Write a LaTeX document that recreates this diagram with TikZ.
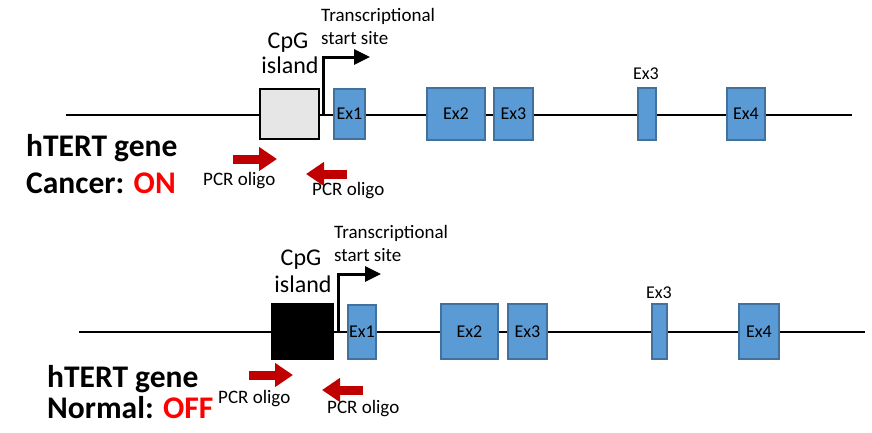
\documentclass[tikz,border=0pt]{standalone}
\usepackage{fontspec}
\setmainfont{Carlito}
\usetikzlibrary{arrows.meta}
\definecolor{exfill}{RGB}{91,155,213}
\definecolor{exdraw}{RGB}{65,113,156}
\definecolor{pcrred}{RGB}{192,0,0}
\definecolor{onred}{RGB}{255,0,0}
\definecolor{cpggray}{RGB}{230,230,230}
\tikzset{
  exon/.style={draw=exdraw, fill=exfill, line width=1.5pt, inner sep=0pt, font=\fontsize{18}{21}\selectfont},
  cpgbox/.style={draw=black, line width=2pt, inner sep=0pt},
  backbone/.style={line width=2pt, black},
  tssarrow/.style={line width=3pt, -{Triangle[length=16pt,width=15pt]}},
  pcrarrow/.style={pcrred, line width=9pt, -{Triangle[length=18pt,width=23pt]}},
  smalltxt/.style={inner sep=0pt, font=\fontsize{19}{22}\selectfont},
  extxt/.style={inner sep=0pt, font=\fontsize{18}{21}\selectfont},
  cpgtxt/.style={inner sep=0pt, font=\fontsize{24}{28}\selectfont},
  bigtxt/.style={inner sep=0pt, font=\fontsize{31.5}{35}\selectfont\bfseries},
}
\begin{document}
\begin{tikzpicture}[x=1pt,y=-1pt]
\useasboundingbox (0,0) rectangle (872,432);
% ===== top panel (Cancer) =====
\coordinate (L1) at (66,115);
\coordinate (R1) at (852,115);
\draw[backbone] (L1) -- (R1);
\node[cpgbox, fill=cpggray, minimum width=59pt, minimum height=50pt] (cpg1) at (289.5,114) {};
\node[exon, minimum width=31pt, minimum height=50pt] (e11) at (349.5,114) {Ex1};
\node[exon, minimum width=58pt, minimum height=52pt] (e12) at (456,114) {Ex2};
\node[exon, minimum width=39pt, minimum height=52pt] (e13) at (513.5,114) {Ex3};
\node[exon, minimum width=18pt, minimum height=52pt] (e13b) at (647,114) {};
\node[exon, minimum width=38pt, minimum height=52pt] (e14) at (746,114) {Ex4};
\node[extxt, anchor=base] (e13lab) at (646,79) {Ex3};
\coordinate (tss1a) at (323,114);
\coordinate (tss1b) at (370,57);
\draw[tssarrow] (tss1a) |- (tss1b);
\node[smalltxt, anchor=base west] (tt1) at (321,21) {Transcriptional};
\node[smalltxt, anchor=base west] (ts1) at (321,44) {start site};
\node[cpgtxt, anchor=base] (cpgt1) at (288,48) {CpG};
\node[cpgtxt, anchor=base] (isl1) at (290,73) {island};
\node[bigtxt, anchor=base west] (h1) at (26,156) {hTERT gene};
\node[bigtxt, anchor=base west] (c1) at (26,193) {Cancer: \textcolor{onred}{ON}};
\coordinate (p1a) at (233,159);
\coordinate (p1b) at (277,159);
\draw[pcrarrow] (p1a) -- (p1b);
\coordinate (p2a) at (347,174);
\coordinate (p2b) at (306,174);
\draw[pcrarrow] (p2a) -- (p2b);
\node[smalltxt, anchor=base west] (o1) at (203,185) {PCR oligo};
\node[smalltxt, anchor=base west] (o2) at (312,195) {PCR oligo};
% ===== bottom panel (Normal) =====
\coordinate (L2) at (79,332);
\coordinate (R2) at (865,332);
\draw[backbone] (L2) -- (R2);
\node[cpgbox, fill=black, minimum width=61pt, minimum height=55pt] (cpg2) at (302.5,331.5) {};
\node[exon, minimum width=28pt, minimum height=54pt] (e21) at (362,332) {Ex1};
\node[exon, minimum width=57pt, minimum height=55pt] (e22) at (469.5,331.5) {Ex2};
\node[exon, minimum width=39pt, minimum height=55pt] (e23) at (527.5,331.5) {Ex3};
\node[exon, minimum width=15pt, minimum height=55pt] (e23b) at (659.5,331.5) {};
\node[exon, minimum width=40pt, minimum height=55pt] (e24) at (759,331.5) {Ex4};
\node[extxt, anchor=base] (e23lab) at (659,298) {Ex3};
\coordinate (tss2a) at (338,331);
\coordinate (tss2b) at (381,274);
\draw[tssarrow] (tss2a) |- (tss2b);
\node[smalltxt, anchor=base west] (tt2) at (334,238) {Transcriptional};
\node[smalltxt, anchor=base west] (ts2) at (334,261) {start site};
\node[cpgtxt, anchor=base] (cpgt2) at (301,265) {CpG};
\node[cpgtxt, anchor=base] (isl2) at (303,292) {island};
\node[bigtxt, anchor=base west] (h2) at (47,387) {hTERT gene};
\node[bigtxt, anchor=base west] (n2) at (47,418) {Normal: \textcolor{onred}{OFF}};
\coordinate (q1a) at (249,375);
\coordinate (q1b) at (293,375);
\draw[pcrarrow] (q1a) -- (q1b);
\coordinate (q2a) at (363,390);
\coordinate (q2b) at (322,390);
\draw[pcrarrow] (q2a) -- (q2b);
\node[smalltxt, anchor=base west] (o3) at (218,403) {PCR oligo};
\node[smalltxt, anchor=base west] (o4) at (327,413) {PCR oligo};
\end{tikzpicture}
\end{document}
